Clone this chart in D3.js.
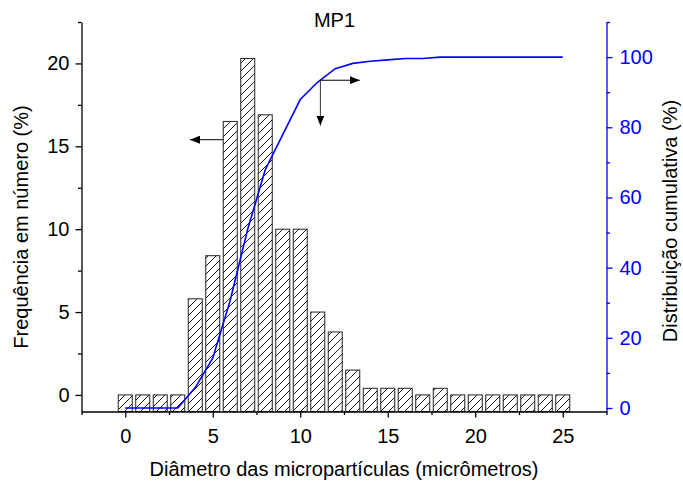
<!DOCTYPE html>
<html>
<head>
<meta charset="utf-8">
<script src="https://cdn.jsdelivr.net/npm/d3@7"></script>
<style>
  body { margin: 0; background: #fff; }
  text { font-family: "Liberation Sans", Arial, sans-serif; }
</style>
</head>
<body>
<svg id="chart" width="683" height="484"></svg>
<script>
// Particle diameter classes (micrometres)
const diameters = [0, 1, 2, 3, 4, 5, 6, 7, 8, 9, 10, 11, 12, 13, 14, 15, 16, 17, 18, 19, 20, 21, 22, 23, 24, 25];
// Number frequency per class (%)
const frequency = [0, 0, 0, 0, 5.8, 8.4, 16.5, 20.3, 16.9, 10.0, 10.0, 5.0, 3.8, 1.5, 0.4, 0.4, 0.4, 0, 0.4, 0, 0, 0, 0, 0, 0, 0];
// Cumulative distribution (%)
const cumulative = [0, 0, 0, 0, 5.8, 14.2, 30.7, 51.0, 67.9, 77.9, 87.9, 92.9, 96.7, 98.2, 98.8, 99.2, 99.6, 99.6, 100, 100, 100, 100, 100, 100, 100, 100];

const xTicks = [0, 5, 10, 15, 20, 25];
const xMinorTicks = [-2.5, 2.5, 7.5, 12.5, 17.5, 22.5, 27.5];
const freqTicks = [0, 5, 10, 15, 20];
const freqMinorTicks = [2.5, 7.5, 12.5, 17.5, 22.5];
const cumTicks = [0, 20, 40, 60, 80, 100];
const cumMinorTicks = [10, 30, 50, 70, 90, 110];

// Pointer arrows telling which curve belongs to which axis
const freqArrow = { x1: 5.6, x2: 3.7, y: 15.4 };
const cumArrowRight = { x1: 11.15, x2: 13.4, y: 93.4 };
const cumArrowDown = { x: 11.15, y1: 93.4, y2: 80.5 };

const svg = d3.select("#chart");
const margin = { left: 81.5, right: 606.5, top: 22, bottom: 411.5 };

const x = d3.scaleLinear().domain([-2.5, 27.5]).range([margin.left, margin.right]);
const yFreq = d3.scaleLinear().domain([-1, 22.5]).range([margin.bottom, margin.top]);
const yCum = d3.scaleLinear().domain([-1, 110]).range([margin.bottom, margin.top]);

const blue = "#0000ff";
const fontSize = 20;

// Hatch pattern for the bars
const defs = svg.append("defs");
const pat = defs.append("pattern")
  .attr("id", "hatch")
  .attr("patternUnits", "userSpaceOnUse")
  .attr("width", 8).attr("height", 8);
pat.append("rect").attr("width", 8).attr("height", 8).attr("fill", "#fff");
pat.append("path")
  .attr("d", "M-2,2 l4,-4 M0,8 l8,-8 M6,10 l4,-4")
  .attr("stroke", "#000").attr("stroke-width", 0.9);

defs.append("marker")
  .attr("id", "arrowhead")
  .attr("markerUnits", "userSpaceOnUse")
  .attr("viewBox", "0 0 10 8")
  .attr("refX", 10).attr("refY", 4)
  .attr("markerWidth", 10).attr("markerHeight", 8)
  .attr("orient", "auto")
  .append("path")
  .attr("d", "M0,0 L10,4 L0,8 Z")
  .attr("fill", "#000");

// Bars
const barW = x(0.8) - x(0);
svg.append("g").selectAll("rect")
  .data(diameters)
  .join("rect")
  .attr("x", (d) => x(d) - barW / 2)
  .attr("width", barW)
  .attr("y", (d, i) => yFreq(frequency[i]))
  .attr("height", (d, i) => yFreq.range()[0] - yFreq(frequency[i]))
  .attr("fill", "url(#hatch)")
  .attr("stroke", "#222")
  .attr("stroke-width", 1);

// Cumulative curve
const line = d3.line()
  .x((d) => x(d))
  .y((d, i) => yCum(cumulative[i]));
svg.append("path")
  .datum(diameters)
  .attr("d", line)
  .attr("fill", "none")
  .attr("stroke", blue)
  .attr("stroke-width", 1.6);

// Arrows
svg.append("line")
  .attr("x1", x(freqArrow.x1)).attr("x2", x(freqArrow.x2))
  .attr("y1", yFreq(freqArrow.y)).attr("y2", yFreq(freqArrow.y))
  .attr("stroke", "#000").attr("stroke-width", 1)
  .attr("marker-end", "url(#arrowhead)");
svg.append("line")
  .attr("x1", x(cumArrowRight.x1)).attr("x2", x(cumArrowRight.x2))
  .attr("y1", yCum(cumArrowRight.y)).attr("y2", yCum(cumArrowRight.y))
  .attr("stroke", "#000").attr("stroke-width", 1)
  .attr("marker-end", "url(#arrowhead)");
svg.append("line")
  .attr("x1", x(cumArrowDown.x)).attr("x2", x(cumArrowDown.x))
  .attr("y1", yCum(cumArrowDown.y1)).attr("y2", yCum(cumArrowDown.y2))
  .attr("stroke", "#333").attr("stroke-width", 1)
  .attr("marker-end", "url(#arrowhead)");

// Axes
function styleAxis(g, color) {
  g.selectAll("path.domain").attr("stroke", color).attr("stroke-width", 1.3);
  g.selectAll(".tick line").attr("stroke", color).attr("stroke-width", 1.3);
  g.selectAll(".tick text").attr("fill", color).attr("font-size", fontSize)
    .attr("font-family", '"Liberation Sans", Arial, sans-serif');
}

// Bottom
const gx = svg.append("g").attr("transform", `translate(0,${margin.bottom})`);
gx.call(d3.axisBottom(x).tickValues(xTicks).tickSize(6).tickSizeOuter(0).tickPadding(11)
  .tickFormat(d3.format("d")));
styleAxis(gx, "#000");
const gxm = svg.append("g").attr("transform", `translate(0,${margin.bottom})`);
gxm.call(d3.axisBottom(x).tickValues(xMinorTicks).tickSize(3.5).tickSizeOuter(0).tickFormat(""));
gxm.select("path.domain").remove();
styleAxis(gxm, "#000");

// Left
const gy = svg.append("g").attr("transform", `translate(${margin.left},0)`);
gy.call(d3.axisLeft(yFreq).tickValues(freqTicks).tickSize(6).tickSizeOuter(0).tickPadding(6)
  .tickFormat(d3.format("d")));
styleAxis(gy, "#000");
const gym = svg.append("g").attr("transform", `translate(${margin.left},0)`);
gym.call(d3.axisLeft(yFreq).tickValues(freqMinorTicks).tickSize(3.5).tickSizeOuter(0).tickFormat(""));
gym.select("path.domain").remove();
styleAxis(gym, "#000");

// Right
const gr = svg.append("g").attr("transform", `translate(${margin.right},0)`);
gr.call(d3.axisRight(yCum).tickValues(cumTicks).tickSize(6).tickSizeOuter(0).tickPadding(7)
  .tickFormat(d3.format("d")));
styleAxis(gr, blue);
const grm = svg.append("g").attr("transform", `translate(${margin.right},0)`);
grm.call(d3.axisRight(yCum).tickValues(cumMinorTicks).tickSize(3.5).tickSizeOuter(0).tickFormat(""));
grm.select("path.domain").remove();
styleAxis(grm, blue);

// Titles
svg.append("text")
  .attr("x", 334.5).attr("y", 27)
  .attr("text-anchor", "middle")
  .attr("font-size", fontSize)
  .text("MP1");

svg.append("text")
  .attr("x", 344).attr("y", 476)
  .attr("text-anchor", "middle")
  .attr("font-size", fontSize)
  .text("Diâmetro das micropartículas (micrômetros)");

svg.append("text")
  .attr("transform", "translate(28,227) rotate(-90)")
  .attr("text-anchor", "middle")
  .attr("font-size", fontSize)
  .text("Frequência em número (%)");

svg.append("text")
  .attr("transform", "translate(677,221) rotate(-90)")
  .attr("text-anchor", "middle")
  .attr("font-size", fontSize)
  .text("Distribuição cumulativa (%)");
</script>
</body>
</html>
